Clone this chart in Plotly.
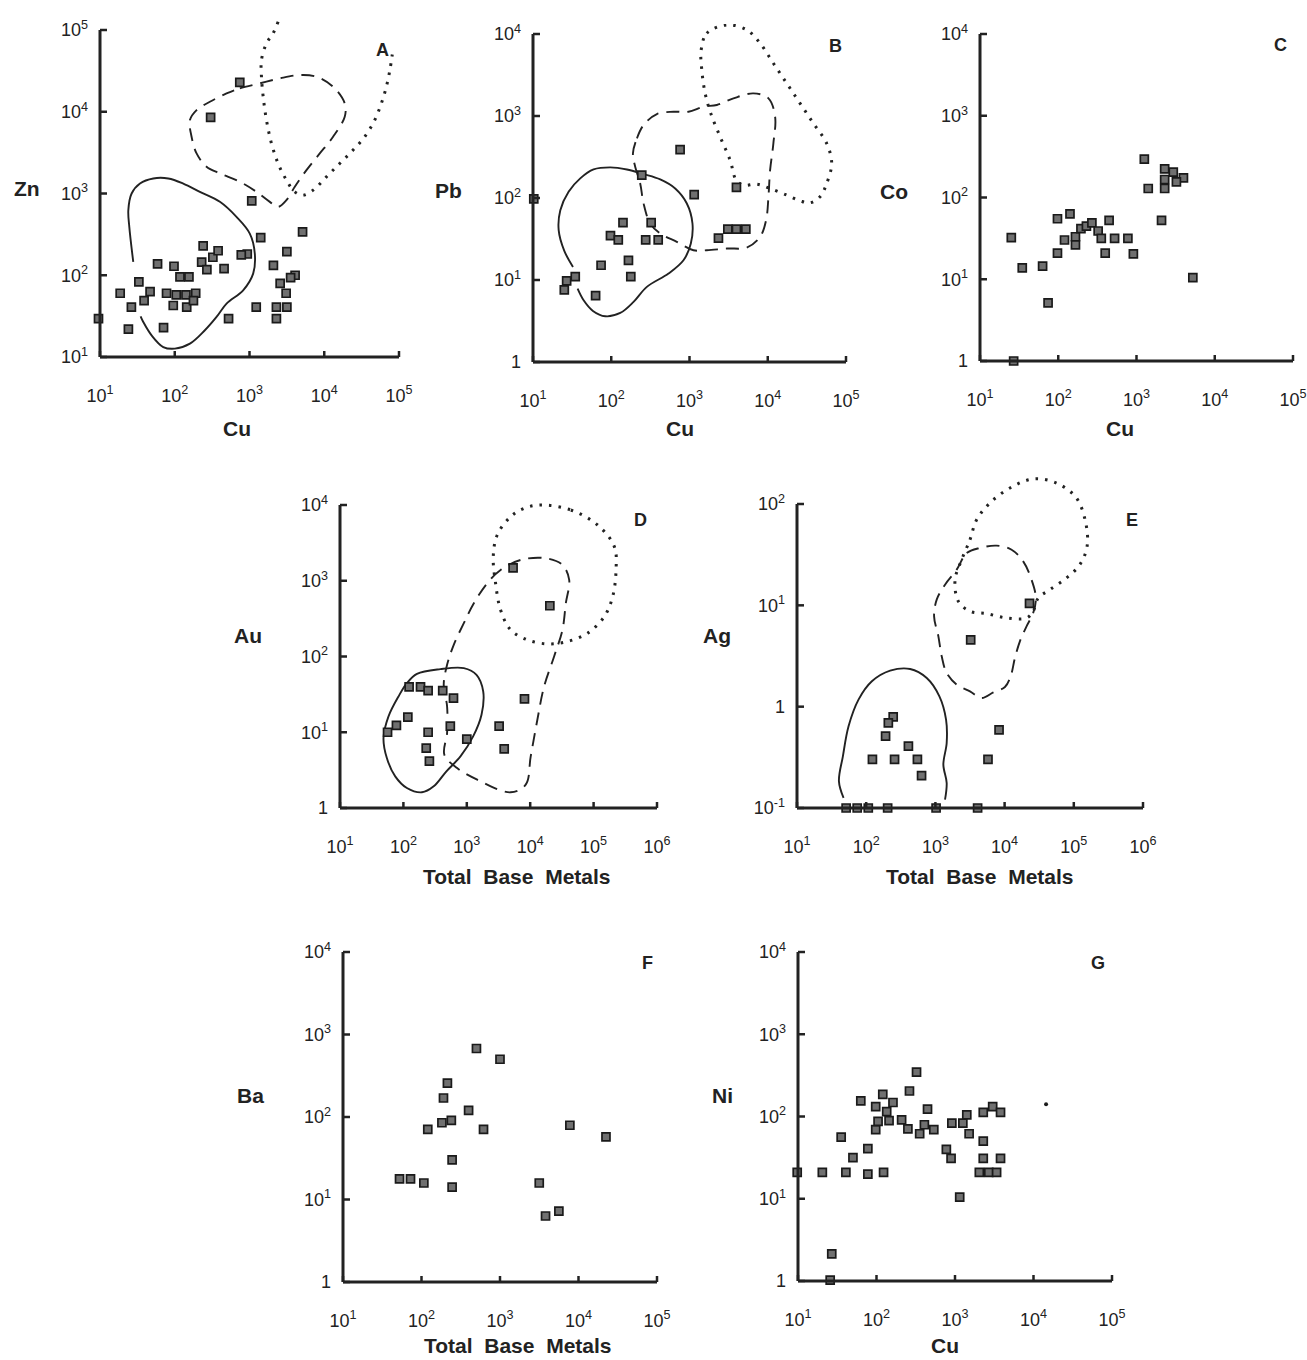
import numpy as np
import plotly.graph_objects as go

PAGE_W, PAGE_H = 1307, 1360
OFF = 0                      # body margin removed by the post script below
W, H = PAGE_W - OFF, PAGE_H - OFF
PAD = 10                     # pixels of room around each frame so ticks are not clipped
FONT = "Liberation Sans, Arial, Helvetica, sans-serif"
INK = "#222222"

# ---------------- scatter data: log10 of concentration ----------------
# A: Zn vs Cu
A_cu = [0.98, 1.27, 1.38, 1.42, 1.52, 1.59, 1.67, 1.77, 1.85, 1.89, 1.99, 2.02, 1.98, 2.07,
        2.15, 2.16, 2.19, 2.28, 2.25, 2.38, 2.36, 2.43, 2.51, 2.58, 2.66, 2.72, 2.97, 2.87,
        2.48, 3.03, 3.15, 3.09, 3.32, 3.36, 3.36, 3.41, 3.49, 3.50, 3.50, 3.61, 3.71, 2.89, 3.55]
A_zn = [1.47, 1.78, 1.34, 1.61, 1.92, 1.69, 1.80, 2.14, 1.36, 1.78, 2.11, 1.76, 1.63, 1.98,
        1.76, 1.61, 1.98, 1.78, 1.69, 2.36, 2.16, 2.07, 2.22, 2.30, 2.08, 1.47, 2.26, 4.36,
        3.93, 2.91, 2.46, 1.61, 2.12, 1.61, 1.47, 1.90, 1.78, 2.29, 1.61, 2.00, 2.53, 2.25, 1.97]
# B: Pb vs Cu
B_cu = [1.01, 1.40, 1.43, 1.54, 1.80, 1.87, 1.99, 2.15, 2.22, 2.25, 2.39, 2.44, 2.51, 2.60,
        2.88, 3.06, 3.37, 3.49, 3.60, 3.72, 3.60, 2.09]
B_pb = [1.99, 0.88, 0.99, 1.04, 0.81, 1.18, 1.54, 1.70, 1.24, 1.04, 2.28, 1.49, 1.70, 1.49,
        2.59, 2.04, 1.51, 1.62, 1.62, 1.62, 2.13, 1.49]
# C: Co vs Cu
C_cu = [1.40, 1.43, 1.54, 1.80, 1.87, 1.99, 1.99, 2.08, 2.15, 2.22, 2.22, 2.29, 2.36, 2.43,
        2.51, 2.55, 2.60, 2.65, 2.72, 2.89, 2.96, 3.10, 3.15, 3.32, 3.36, 3.36, 3.36, 3.47,
        3.60, 3.51, 3.72]
C_co = [1.51, 0.00, 1.14, 1.16, 0.71, 1.74, 1.32, 1.48, 1.80, 1.52, 1.42, 1.62, 1.65, 1.69,
        1.59, 1.50, 1.32, 1.72, 1.50, 1.50, 1.31, 2.47, 2.11, 1.72, 2.35, 2.22, 2.11, 2.31,
        2.24, 2.19, 1.02]
# D: Au vs Total Base Metals
D_tbm = [1.75, 1.89, 2.07, 2.09, 2.27, 2.39, 2.39, 2.36, 2.41, 2.62, 2.79, 2.74, 3.00, 3.51,
         3.59, 3.91, 3.73, 4.31]
D_au = [1.00, 1.09, 1.20, 1.60, 1.60, 1.55, 1.00, 0.79, 0.62, 1.55, 1.45, 1.08, 0.91, 1.08,
        0.78, 1.44, 3.17, 2.67]
# E: Ag vs Total Base Metals
E_tbm = [1.71, 1.87, 2.03, 2.31, 3.01, 3.61, 2.39, 2.32, 2.28, 2.09, 2.41, 2.61, 2.74, 2.80,
         3.51, 3.76, 3.92, 4.36]
E_ag = [-1.0, -1.0, -1.0, -1.0, -1.0, -1.0, -0.10, -0.16, -0.29, -0.52, -0.52, -0.39, -0.52,
        -0.68, 0.66, -0.52, -0.23, 1.02]
# F: Ba vs Total Base Metals
F_tbm = [1.72, 1.86, 2.03, 2.08, 2.28, 2.33, 2.26, 2.38, 2.39, 2.39, 2.60, 2.70, 2.79, 3.00,
         3.50, 3.58, 3.75, 3.89, 4.35]
F_ba = [1.25, 1.25, 1.20, 1.85, 2.23, 2.41, 1.93, 1.96, 1.48, 1.15, 2.08, 2.83, 1.85, 2.70,
        1.20, 0.80, 0.86, 1.90, 1.76]
# G: Ni vs Cu
G_cu = [0.99, 1.31, 1.43, 1.41, 1.55, 1.61, 1.70, 1.80, 1.89, 1.89, 1.99, 1.99, 2.02, 2.08,
        2.09, 2.13, 2.16, 2.21, 2.32, 2.40, 2.42, 2.51, 2.55, 2.61, 2.65, 2.73, 2.89, 2.95,
        2.96, 3.06, 3.10, 3.15, 3.18, 3.31, 3.36, 3.36, 3.36, 3.43, 3.48, 3.53, 3.58, 3.58]
G_ni = [1.32, 1.32, 0.33, 0.01, 1.75, 1.32, 1.50, 2.19, 1.30, 1.61, 1.84, 2.12, 1.94, 2.27,
        1.32, 2.06, 1.95, 2.17, 1.96, 1.85, 2.31, 2.54, 1.79, 1.90, 2.09, 1.84, 1.60, 1.49,
        1.92, 1.02, 1.92, 2.02, 1.79, 1.32, 2.05, 1.70, 1.49, 1.32, 2.12, 1.32, 2.05, 1.49]
G_dot_cu = [4.16]
G_dot_ni = [2.15]

# ---------------- field outlines: log10 vertices ----------------
A_solid_x = [1.445, 1.392, 1.379, 1.423, 1.535, 1.713, 1.913, 2.114, 2.336, 2.604, 2.826, 3.004,
             3.071, 3.049, 2.915, 2.693, 2.559, 2.403, 2.203, 2.002, 1.846, 1.690, 1.579, 1.543]
A_solid_y = [2.163, 2.592, 2.796, 3.000, 3.122, 3.184, 3.184, 3.122, 3.020, 2.898, 2.714, 2.510,
             2.265, 2.020, 1.816, 1.653, 1.490, 1.327, 1.163, 1.102, 1.122, 1.265, 1.429, 1.498]
A_dash_x = [2.693, 2.871, 3.138, 3.405, 3.673, 3.895, 4.118, 4.274, 4.274, 4.118, 3.940, 3.762,
            3.606, 3.494, 3.383, 3.272, 3.094, 2.871, 2.604, 2.425, 2.292, 2.225, 2.203, 2.292, 2.470]
A_dash_y = [4.224, 4.286, 4.347, 4.408, 4.449, 4.429, 4.306, 4.102, 3.939, 3.694, 3.490, 3.286,
            3.082, 2.918, 2.837, 2.898, 3.020, 3.143, 3.245, 3.327, 3.490, 3.694, 3.898, 4.020, 4.122]
A_dot_x = [3.383, 3.316, 3.227, 3.160, 3.160, 3.183, 3.227, 3.294, 3.383, 3.494, 3.606, 3.717,
           3.851, 4.029, 4.207, 4.385, 4.541, 4.675, 4.764, 4.831, 4.880, 4.910]
A_dot_y = [5.102, 4.959, 4.837, 4.633, 4.429, 4.184, 3.898, 3.612, 3.367, 3.163, 3.020, 2.980,
           3.041, 3.204, 3.367, 3.531, 3.694, 3.898, 4.102, 4.306, 4.520, 4.700]

B_solid_x = [1.511, 1.400, 1.328, 1.349, 1.455, 1.604, 1.774, 1.987, 2.200, 2.413, 2.626, 2.817,
             2.966, 3.038, 3.017, 2.923, 2.732, 2.455, 2.285, 2.115, 1.923, 1.766, 1.647, 1.570]
B_solid_y = [1.160, 1.355, 1.608, 1.852, 2.076, 2.239, 2.348, 2.373, 2.348, 2.291, 2.226, 2.116,
             1.933, 1.689, 1.445, 1.241, 1.079, 0.916, 0.733, 0.598, 0.558, 0.623, 0.753, 0.895]
B_dash_x = [2.277, 2.328, 2.413, 2.583, 2.796, 2.987, 3.179, 3.349, 3.562, 3.817, 4.009, 4.094,
            4.072, 4.030, 4.009, 3.979, 3.902, 3.732, 3.477, 3.221, 3.051, 2.838, 2.626, 2.498,
            2.413, 2.370, 2.306]
B_dash_y = [2.544, 2.727, 2.890, 3.024, 3.052, 3.052, 3.114, 3.134, 3.215, 3.276, 3.215, 2.991,
            2.666, 2.340, 2.015, 1.730, 1.526, 1.396, 1.384, 1.363, 1.363, 1.465, 1.567, 1.689,
            1.933, 2.177, 2.381]
B_dot_x = [3.149, 3.221, 3.477, 3.732, 3.902, 4.072, 4.243, 4.413, 4.583, 4.753, 4.817, 4.753,
           4.668, 4.540, 4.413, 4.243, 4.030, 3.860, 3.689, 3.596, 3.519, 3.391, 3.272, 3.200, 3.157]
B_dot_y = [3.805, 4.009, 4.111, 4.050, 3.887, 3.643, 3.398, 3.154, 2.910, 2.666, 2.422, 2.177,
           2.015, 1.941, 1.966, 2.035, 2.116, 2.169, 2.157, 2.218, 2.462, 2.747, 3.032, 3.276, 3.561]

D_solid_x = [2.214, 2.583, 2.953, 3.153, 3.259, 3.232, 3.100, 2.900, 2.678, 2.478, 2.293, 2.055,
             1.871, 1.739, 1.686, 1.765, 1.923, 2.055]
D_solid_y = [1.771, 1.833, 1.846, 1.758, 1.538, 1.231, 0.945, 0.681, 0.484, 0.286, 0.207, 0.264,
             0.418, 0.659, 0.923, 1.209, 1.473, 1.648]
D_dash_x = [3.850, 3.533, 3.322, 3.111, 2.953, 2.794, 2.689, 2.636, 2.689, 2.689, 2.646, 2.847,
            3.164, 3.691, 3.929, 4.008, 4.113, 4.219, 4.377, 4.509, 4.562, 4.615, 4.509, 4.245]
D_dash_y = [3.275, 3.143, 2.967, 2.703, 2.440, 2.154, 1.890, 1.626, 1.341, 0.989, 0.703, 0.527,
            0.374, 0.207, 0.308, 0.681, 1.165, 1.604, 2.000, 2.352, 2.703, 3.011, 3.209, 3.297]
D_dot_x = [4.166, 4.641, 5.063, 5.327, 5.354, 5.301, 5.169, 4.905, 4.588, 4.272, 3.955, 3.691,
           3.533, 3.454, 3.417, 3.480, 3.691, 3.902]
D_dot_y = [4.000, 3.934, 3.736, 3.451, 3.143, 2.791, 2.527, 2.308, 2.198, 2.167, 2.220, 2.352,
           2.615, 2.967, 3.319, 3.604, 3.846, 3.956]

E_solid_x = [1.673, 1.606, 1.663, 1.745, 1.889, 2.082, 2.346, 2.635, 2.875, 3.058, 3.154, 3.163,
             3.115, 3.163, 3.139]
E_solid_y = [-0.901, -0.737, -0.490, -0.194, 0.069, 0.250, 0.355, 0.372, 0.283, 0.102, -0.128,
             -0.359, -0.572, -0.753, -0.918]
E_dash_x = [3.308, 3.452, 3.644, 3.885, 4.101, 4.269, 4.389, 4.452, 4.413, 4.317, 4.221, 4.149,
            4.087, 4.005, 3.837, 3.668, 3.500, 3.308, 3.163, 3.091, 3.043, 2.981, 3.019, 3.139]
E_dash_y = [1.352, 1.516, 1.566, 1.589, 1.549, 1.434, 1.253, 1.072, 0.924, 0.793, 0.645, 0.480,
            0.299, 0.194, 0.141, 0.086, 0.151, 0.217, 0.332, 0.497, 0.694, 0.891, 1.056, 1.204]
E_dot_x = [3.380, 3.500, 3.596, 3.788, 4.077, 4.413, 4.750, 5.038, 5.173, 5.192, 5.087, 4.894,
           4.654, 4.486, 4.413, 4.317, 4.029, 3.740, 3.500, 3.332, 3.284]
E_dot_y = [1.451, 1.648, 1.845, 2.010, 2.158, 2.247, 2.207, 2.059, 1.813, 1.582, 1.401, 1.270,
           1.155, 1.072, 0.941, 0.875, 0.875, 0.918, 0.941, 1.039, 1.253]

# ---------------- tick decades ----------------
A_xticks = [1, 2, 3, 4, 5]; A_yticks = [1, 2, 3, 4, 5]
B_xticks = [1, 2, 3, 4, 5]; B_yticks = [0, 1, 2, 3, 4]
C_xticks = [1, 2, 3, 4, 5]; C_yticks = [0, 1, 2, 3, 4]
D_xticks = [1, 2, 3, 4, 5, 6]; D_yticks = [0, 1, 2, 3, 4]
E_xticks = [1, 2, 3, 4, 5, 6]; E_yticks = [-1, 0, 1, 2]
F_xticks = [1, 2, 3, 4, 5]; F_yticks = [0, 1, 2, 3, 4]
G_xticks = [1, 2, 3, 4, 5]; G_yticks = [0, 1, 2, 3, 4]

# ---------------- labels ----------------
panel_letters = ["A", "B", "C", "D", "E", "F", "G"]
y_titles = ["Zn", "Pb", "Co", "Au", "Ag", "Ba", "Ni"]
x_titles = ["Cu", "Cu", "Cu", "Total  Base  Metals", "Total  Base  Metals",
            "Total  Base  Metals", "Cu"]

# ---------------- layout of panels (page pixels) ----------------
panels = [
    dict(xt=A_xticks, yt=A_yticks, px=(100, 399), py=(357, 30), ytop=5.2,
         pts=[(A_cu, A_zn)],
         lines=[(A_solid_x, A_solid_y, "solid", False), (A_dash_x, A_dash_y, "dash", True),
                (A_dot_x, A_dot_y, "dot", False)],
         ylab=(27, 189), xlab=(237, 428), let=(383, 50)),
    dict(xt=B_xticks, yt=B_yticks, px=(533, 846), py=(362, 34), ytop=None,
         pts=[(B_cu, B_pb)],
         lines=[(B_solid_x, B_solid_y, "solid", False), (B_dash_x, B_dash_y, "dash", True),
                (B_dot_x, B_dot_y, "dot", True)],
         ylab=(448, 191), xlab=(680, 428), let=(835, 46)),
    dict(xt=C_xticks, yt=C_yticks, px=(980, 1293), py=(361, 34), ytop=None,
         pts=[(C_cu, C_co)], lines=[],
         ylab=(894, 192), xlab=(1120, 428), let=(1280, 45)),
    dict(xt=D_xticks, yt=D_yticks, px=(340, 657), py=(808, 505), ytop=None,
         pts=[(D_tbm, D_au)],
         lines=[(D_solid_x, D_solid_y, "solid", True), (D_dash_x, D_dash_y, "dash", True),
                (D_dot_x, D_dot_y, "dot", True)],
         ylab=(248, 635), xlab=(517, 876), let=(640, 520)),
    dict(xt=E_xticks, yt=E_yticks, px=(797, 1143), py=(808, 504), ytop=2.3,
         pts=[(E_tbm, E_ag)],
         lines=[(E_solid_x, E_solid_y, "solid", False), (E_dash_x, E_dash_y, "dash", True),
                (E_dot_x, E_dot_y, "dot", True)],
         ylab=(717, 635), xlab=(980, 876), let=(1132, 520)),
    dict(xt=F_xticks, yt=F_yticks, px=(343, 657), py=(1282, 952), ytop=None,
         pts=[(F_tbm, F_ba)], lines=[],
         ylab=(250, 1095), xlab=(518, 1345), let=(647, 963)),
    dict(xt=G_xticks, yt=G_yticks, px=(798, 1112), py=(1281, 952), ytop=None,
         pts=[(G_cu, G_ni)], lines=[],
         ylab=(722, 1095), xlab=(945, 1345), let=(1098, 963)),
]


def tick_text(k):
    return "1" if k == 0 else "10<sup>%d</sup>" % k


def fx(px):
    return (px - OFF) / W


def fy(py):
    return 1 - (py - OFF) / H


fig = go.Figure()
shapes = []
annotations = []
layout_axes = {}

for i, p in enumerate(panels):
    n = i + 1
    xname = "x" if n == 1 else "x%d" % n
    yname = "y" if n == 1 else "y%d" % n
    xkey = "xaxis" if n == 1 else "xaxis%d" % n
    ykey = "yaxis" if n == 1 else "yaxis%d" % n
    xmin, xmax = min(p["xt"]), max(p["xt"])
    ymin, ymax = min(p["yt"]), max(p["yt"])
    px0, px1 = p["px"]
    pyb, pyt = p["py"]
    per_dec_y = (pyb - pyt) / (ymax - ymin)
    per_dec_x = (px1 - px0) / (xmax - xmin)
    want_top = p["ytop"] if p["ytop"] is not None else ymax
    top_pix = max(OFF + 1, pyb - (want_top - ymin) * per_dec_y - PAD)
    ytop = ymin + (pyb - top_pix) / per_dec_y
    right_pix = min(PAGE_W - 1, px1 + PAD)
    xright = xmin + (right_pix - px0) / per_dec_x
    padx = PAD / per_dec_x
    pady = PAD / per_dec_y

    layout_axes[xkey] = dict(
        type="log", range=[xmin - padx, xright],
        domain=[fx(px0 - PAD), fx(right_pix)], anchor=yname,
        showline=False, showgrid=False, zeroline=False, ticks="", automargin=False,
        tickmode="array", tickvals=[10.0 ** k for k in p["xt"]],
        ticktext=[tick_text(k) for k in p["xt"]],
        tickfont=dict(family=FONT, size=18, color=INK), ticklabelstandoff=26 - PAD,
    )
    layout_axes[ykey] = dict(
        type="log", range=[ymin - pady, ytop],
        domain=[fy(pyb + PAD), fy(top_pix)], anchor=xname,
        showline=False, showgrid=False, zeroline=False, ticks="", automargin=False,
        tickmode="array", tickvals=[10.0 ** k for k in p["yt"]],
        ticktext=[tick_text(k) for k in p["yt"]],
        tickfont=dict(family=FONT, size=18, color=INK), ticklabelstandoff=max(0, 11 - PAD),
    )

    axline = dict(color=INK, width=3)
    # axis lines
    shapes.append(dict(type="line", xref=xname, yref=yname, x0=10.0 ** xmin, x1=10.0 ** xmax,
                       y0=10.0 ** ymin, y1=10.0 ** ymin, line=axline, layer="above"))
    shapes.append(dict(type="line", xref=xname, yref=yname, x0=10.0 ** xmin, x1=10.0 ** xmin,
                       y0=10.0 ** ymin, y1=10.0 ** ymax, line=axline, layer="above"))
    # crossing ticks
    for k in p["xt"]:
        shapes.append(dict(type="line", xref=xname, yref=yname, x0=10.0 ** k, x1=10.0 ** k,
                           ysizemode="pixel", yanchor=10.0 ** ymin, y0=-6, y1=6,
                           line=dict(color=INK, width=2.5), layer="above"))
    for k in p["yt"]:
        shapes.append(dict(type="line", xref=xname, yref=yname, y0=10.0 ** k, y1=10.0 ** k,
                           xsizemode="pixel", xanchor=10.0 ** xmin, x0=-7, x1=7,
                           line=dict(color=INK, width=2.5), layer="above"))

    # field outlines
    for lx, ly, style, closed in p["lines"]:
        xs = list(lx) + ([lx[0]] if closed else [])
        ys = list(ly) + ([ly[0]] if closed else [])
        if style == "solid":
            ln = dict(color=INK, width=1.9, shape="spline", smoothing=1.0)
        elif style == "dash":
            ln = dict(color=INK, width=1.9, dash="13px,8px", shape="spline", smoothing=1.0)
        else:
            ln = dict(color=INK, width=3.0, dash="2.5px,7px", shape="spline", smoothing=1.0)
        fig.add_trace(go.Scatter(
            x=10.0 ** np.array(xs), y=10.0 ** np.array(ys), mode="lines", line=ln,
            xaxis=xname, yaxis=yname, showlegend=False, hoverinfo="skip"))

    # samples
    for sx, sy in p["pts"]:
        fig.add_trace(go.Scatter(
            x=10.0 ** np.array(sx), y=10.0 ** np.array(sy), mode="markers",
            marker=dict(symbol="square", size=8, color="#707070",
                        line=dict(color="#1a1a1a", width=1.7)),
            xaxis=xname, yaxis=yname, showlegend=False, cliponaxis=False))

    # labels
    annotations.append(dict(text="<b>%s</b>" % y_titles[i], x=fx(p["ylab"][0]),
                            y=fy(p["ylab"][1]), xref="paper", yref="paper",
                            showarrow=False, xanchor="center", yanchor="middle",
                            font=dict(family=FONT, size=21, color=INK)))
    annotations.append(dict(text="<b>%s</b>" % x_titles[i], x=fx(p["xlab"][0]),
                            y=fy(p["xlab"][1]), xref="paper", yref="paper",
                            showarrow=False, xanchor="center", yanchor="middle",
                            font=dict(family=FONT, size=21, color=INK)))
    annotations.append(dict(text="<b>%s</b>" % panel_letters[i], x=fx(p["let"][0]),
                            y=fy(p["let"][1]), xref="paper", yref="paper",
                            showarrow=False, xanchor="center", yanchor="middle",
                            font=dict(family=FONT, size=18, color=INK)))

# single small dot in panel G
fig.add_trace(go.Scatter(
    x=10.0 ** np.array(G_dot_cu), y=10.0 ** np.array(G_dot_ni), mode="markers",
    marker=dict(symbol="circle", size=4, color="#1c1c1c"),
    xaxis="x7", yaxis="y7", showlegend=False))

fig.update_layout(
    width=W, height=H, margin=dict(l=0, r=0, t=0, b=0, pad=0, autoexpand=False),
    paper_bgcolor="white", plot_bgcolor="rgba(0,0,0,0)",
    showlegend=False, shapes=shapes, annotations=annotations,
    font=dict(family=FONT, color=INK), hovermode=False,
    **layout_axes,
)

fig.write_html(
    "out.html",
    config={"displayModeBar": False, "staticPlot": True},
    post_script="document.body.style.margin='0';document.body.style.overflow='hidden';",
)
